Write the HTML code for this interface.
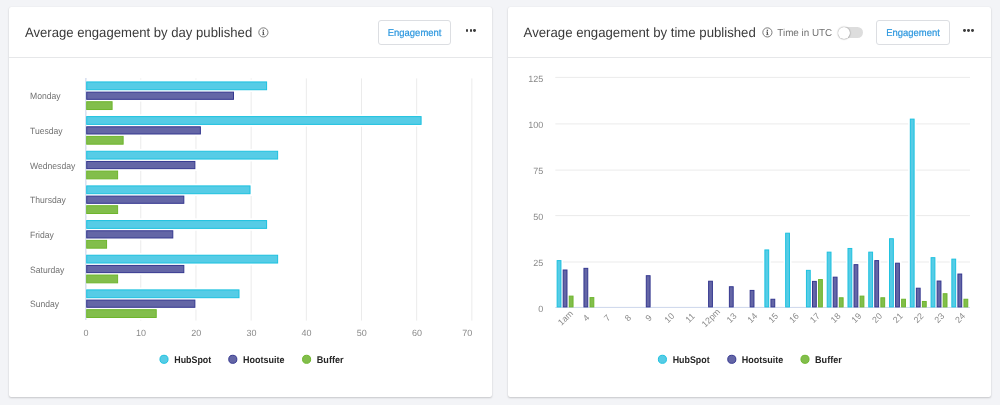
<!DOCTYPE html>
<html><head><meta charset="utf-8"><title>Engagement</title>
<style>
html,body{margin:0;padding:0;}
body{width:1000px;height:405px;overflow:hidden;background:#f3f4f7;font-family:"Liberation Sans", sans-serif;position:relative;}
.card{position:absolute;top:7.1px;height:389.5px;background:#fff;border-radius:2px;box-shadow:0 1px 2px rgba(0,0,0,.18),0 0 1px rgba(0,0,0,.10);}
#c1{left:9.2px;width:482.9px;}
#c2{left:507.9px;width:483.1px;}
.hdr{position:absolute;left:0;right:0;top:0;height:49.6px;border-bottom:1px solid #e6e7e9;}
.btn{position:absolute;top:13.2px;height:22.5px;width:71.4px;border:1px solid #dcdee2;border-radius:3px;background:#fff;}
.dots{position:absolute;top:21.9px;width:12px;height:4px;}
.dots i{position:absolute;top:0.2px;width:2.9px;height:2.9px;border-radius:50%;background:#3c3c3c;}
.info{position:absolute;top:19.9px;width:10.8px;height:10.8px;}
.tog{position:absolute;top:20.2px;width:24px;height:11.2px;border-radius:6px;background:#dddddd;}
.tog b{position:absolute;left:-1.2px;top:-0.5px;width:12.1px;height:12.1px;border-radius:50%;background:#fff;box-shadow:0 0 1.5px rgba(0,0,0,.5),0 0.5px 1px rgba(0,0,0,.12);}
svg#ch{position:absolute;left:0;top:0;will-change:transform;}
svg text{font-family:"Liberation Sans", sans-serif;text-rendering:geometricPrecision;}
</style></head>
<body>
<div class="card" id="c1">
 <div class="hdr">
  <svg class="info" style="left:249.0px" viewBox="0 0 10 10"><circle cx="5" cy="5" r="4.25" fill="none" stroke="#707070" stroke-width="0.85"/><rect x="4.45" y="4.3" width="1.1" height="3.1" fill="#555"/><rect x="3.9" y="4.3" width="1.2" height="0.7" fill="#666"/><rect x="3.9" y="6.8" width="2.2" height="0.7" fill="#666"/><rect x="4.4" y="2.5" width="1.2" height="1.15" fill="#555"/></svg>
  <div class="btn" style="left:368.6px"></div>
  <div class="dots" style="left:456.3px"><i style="left:0.1px"></i><i style="left:4.05px"></i><i style="left:8px"></i></div>
 </div>
</div>
<div class="card" id="c2">
 <div class="hdr">
  <svg class="info" style="left:254.0px" viewBox="0 0 10 10"><circle cx="5" cy="5" r="4.25" fill="none" stroke="#707070" stroke-width="0.85"/><rect x="4.45" y="4.3" width="1.1" height="3.1" fill="#555"/><rect x="3.9" y="4.3" width="1.2" height="0.7" fill="#666"/><rect x="3.9" y="6.8" width="2.2" height="0.7" fill="#666"/><rect x="4.4" y="2.5" width="1.2" height="1.15" fill="#555"/></svg>
  <div class="tog" style="left:331.6px"><b></b></div>
  <div class="btn" style="left:368.5px"></div>
  <div class="dots" style="left:455.3px"><i style="left:0.1px"></i><i style="left:4.05px"></i><i style="left:8px"></i></div>
 </div>
</div>
<svg id="ch" width="1000" height="405" viewBox="0 0 1000 405">
<text x="25.00" y="37.20" font-size="13.6" fill="#3a3a3a" textLength="227.20" lengthAdjust="spacingAndGlyphs">Average engagement by day published</text>
<text x="523.60" y="37.20" font-size="13.6" fill="#3a3a3a" textLength="232.20" lengthAdjust="spacingAndGlyphs">Average engagement by time published</text>
<text x="777.30" y="36.10" font-size="10.1" fill="#717171" textLength="54.90" lengthAdjust="spacingAndGlyphs">Time in UTC</text>
<text x="414.60" y="36.00" font-size="10.0" fill="#2b96de" text-anchor="middle" textLength="53.60" lengthAdjust="spacingAndGlyphs" stroke="#2b96de" stroke-width="0.2">Engagement</text>
<text x="913.00" y="36.00" font-size="10.0" fill="#2b96de" text-anchor="middle" textLength="53.60" lengthAdjust="spacingAndGlyphs" stroke="#2b96de" stroke-width="0.2">Engagement</text>
<path d="M140.78 78.40V320.62" stroke="#ebebeb" stroke-width="1"/>
<path d="M195.96 78.40V320.62" stroke="#ebebeb" stroke-width="1"/>
<path d="M251.14 78.40V320.62" stroke="#ebebeb" stroke-width="1"/>
<path d="M306.32 78.40V320.62" stroke="#ebebeb" stroke-width="1"/>
<path d="M361.50 78.40V320.62" stroke="#ebebeb" stroke-width="1"/>
<path d="M416.68 78.40V320.62" stroke="#ebebeb" stroke-width="1"/>
<path d="M471.86 78.40V320.62" stroke="#ebebeb" stroke-width="1"/>
<path d="M85.90 78.00V320.02" stroke="#ccd6eb" stroke-width="1.2"/>
<text x="30.00" y="99.23" font-size="9.2" fill="#717171" textLength="30.60" lengthAdjust="spacingAndGlyphs">Monday</text>
<text x="30.00" y="133.89" font-size="9.2" fill="#717171" textLength="32.67" lengthAdjust="spacingAndGlyphs">Tuesday</text>
<text x="30.00" y="168.55" font-size="9.2" fill="#717171" textLength="45.27" lengthAdjust="spacingAndGlyphs">Wednesday</text>
<text x="30.00" y="203.21" font-size="9.2" fill="#717171" textLength="35.85" lengthAdjust="spacingAndGlyphs">Thursday</text>
<text x="30.00" y="237.87" font-size="9.2" fill="#717171" textLength="23.91" lengthAdjust="spacingAndGlyphs">Friday</text>
<text x="30.00" y="272.53" font-size="9.2" fill="#717171" textLength="34.43" lengthAdjust="spacingAndGlyphs">Saturday</text>
<text x="30.00" y="307.19" font-size="9.2" fill="#717171" textLength="29.17" lengthAdjust="spacingAndGlyphs">Sunday</text>
<rect x="86.70" y="79.63" width="182.39" height="12.40" fill="#fff"/>
<rect x="86.70" y="89.83" width="149.29" height="11.80" fill="#fff"/>
<rect x="86.70" y="99.43" width="27.89" height="12.40" fill="#fff"/>
<rect x="86.70" y="114.29" width="336.90" height="12.40" fill="#fff"/>
<rect x="86.70" y="124.49" width="116.18" height="11.80" fill="#fff"/>
<rect x="86.70" y="134.09" width="38.93" height="12.40" fill="#fff"/>
<rect x="86.70" y="148.95" width="193.43" height="12.40" fill="#fff"/>
<rect x="86.70" y="159.15" width="110.66" height="11.80" fill="#fff"/>
<rect x="86.70" y="168.75" width="33.41" height="12.40" fill="#fff"/>
<rect x="86.70" y="183.61" width="165.84" height="12.40" fill="#fff"/>
<rect x="86.70" y="193.81" width="99.62" height="11.80" fill="#fff"/>
<rect x="86.70" y="203.41" width="33.41" height="12.40" fill="#fff"/>
<rect x="86.70" y="218.27" width="182.39" height="12.40" fill="#fff"/>
<rect x="86.70" y="228.47" width="88.59" height="11.80" fill="#fff"/>
<rect x="86.70" y="238.07" width="22.37" height="12.40" fill="#fff"/>
<rect x="86.70" y="252.93" width="193.43" height="12.40" fill="#fff"/>
<rect x="86.70" y="263.13" width="99.62" height="11.80" fill="#fff"/>
<rect x="86.70" y="272.73" width="33.41" height="12.40" fill="#fff"/>
<rect x="86.70" y="287.59" width="154.80" height="12.40" fill="#fff"/>
<rect x="86.70" y="297.79" width="110.66" height="11.80" fill="#fff"/>
<rect x="86.70" y="307.39" width="72.03" height="12.40" fill="#fff"/>
<rect x="86.70" y="81.93" width="179.89" height="7.80" fill="#56cce6" stroke="#1cc1df" stroke-width="1"/>
<rect x="86.70" y="92.13" width="146.79" height="7.20" fill="#6466a6" stroke="#34378f" stroke-width="1"/>
<rect x="86.70" y="101.73" width="25.39" height="7.80" fill="#82be4b" stroke="#6db52d" stroke-width="1"/>
<rect x="86.70" y="116.59" width="334.40" height="7.80" fill="#56cce6" stroke="#1cc1df" stroke-width="1"/>
<rect x="86.70" y="126.79" width="113.68" height="7.20" fill="#6466a6" stroke="#34378f" stroke-width="1"/>
<rect x="86.70" y="136.39" width="36.43" height="7.80" fill="#82be4b" stroke="#6db52d" stroke-width="1"/>
<rect x="86.70" y="151.25" width="190.93" height="7.80" fill="#56cce6" stroke="#1cc1df" stroke-width="1"/>
<rect x="86.70" y="161.45" width="108.16" height="7.20" fill="#6466a6" stroke="#34378f" stroke-width="1"/>
<rect x="86.70" y="171.05" width="30.91" height="7.80" fill="#82be4b" stroke="#6db52d" stroke-width="1"/>
<rect x="86.70" y="185.91" width="163.34" height="7.80" fill="#56cce6" stroke="#1cc1df" stroke-width="1"/>
<rect x="86.70" y="196.11" width="97.12" height="7.20" fill="#6466a6" stroke="#34378f" stroke-width="1"/>
<rect x="86.70" y="205.71" width="30.91" height="7.80" fill="#82be4b" stroke="#6db52d" stroke-width="1"/>
<rect x="86.70" y="220.57" width="179.89" height="7.80" fill="#56cce6" stroke="#1cc1df" stroke-width="1"/>
<rect x="86.70" y="230.77" width="86.09" height="7.20" fill="#6466a6" stroke="#34378f" stroke-width="1"/>
<rect x="86.70" y="240.37" width="19.87" height="7.80" fill="#82be4b" stroke="#6db52d" stroke-width="1"/>
<rect x="86.70" y="255.23" width="190.93" height="7.80" fill="#56cce6" stroke="#1cc1df" stroke-width="1"/>
<rect x="86.70" y="265.43" width="97.12" height="7.20" fill="#6466a6" stroke="#34378f" stroke-width="1"/>
<rect x="86.70" y="275.03" width="30.91" height="7.80" fill="#82be4b" stroke="#6db52d" stroke-width="1"/>
<rect x="86.70" y="289.89" width="152.30" height="7.80" fill="#56cce6" stroke="#1cc1df" stroke-width="1"/>
<rect x="86.70" y="300.09" width="108.16" height="7.20" fill="#6466a6" stroke="#34378f" stroke-width="1"/>
<rect x="86.70" y="309.69" width="69.53" height="7.80" fill="#82be4b" stroke="#6db52d" stroke-width="1"/>
<text x="85.90" y="335.60" font-size="9.0" fill="#8a8a8a" text-anchor="middle">0</text>
<text x="141.08" y="335.60" font-size="9.0" fill="#8a8a8a" text-anchor="middle">10</text>
<text x="196.26" y="335.60" font-size="9.0" fill="#8a8a8a" text-anchor="middle">20</text>
<text x="251.44" y="335.60" font-size="9.0" fill="#8a8a8a" text-anchor="middle">30</text>
<text x="306.62" y="335.60" font-size="9.0" fill="#8a8a8a" text-anchor="middle">40</text>
<text x="361.80" y="335.60" font-size="9.0" fill="#8a8a8a" text-anchor="middle">50</text>
<text x="416.98" y="335.60" font-size="9.0" fill="#8a8a8a" text-anchor="middle">60</text>
<text x="472.30" y="335.60" font-size="9.0" fill="#8a8a8a" text-anchor="end">70</text>
<path d="M555.30 307.40H970.00" stroke="#ccd6eb" stroke-width="1"/>
<text x="543.20" y="311.60" font-size="9.0" fill="#8a8a8a" text-anchor="end">0</text>
<path d="M555.30 262.00H970.00" stroke="#ebebeb" stroke-width="1"/>
<text x="543.20" y="265.60" font-size="9.0" fill="#8a8a8a" text-anchor="end">25</text>
<path d="M555.30 215.60H970.00" stroke="#ebebeb" stroke-width="1"/>
<text x="543.20" y="219.60" font-size="9.0" fill="#8a8a8a" text-anchor="end">50</text>
<path d="M555.30 170.10H970.00" stroke="#ebebeb" stroke-width="1"/>
<text x="543.20" y="173.60" font-size="9.0" fill="#8a8a8a" text-anchor="end">75</text>
<path d="M555.30 123.90H970.00" stroke="#ebebeb" stroke-width="1"/>
<text x="543.20" y="127.60" font-size="9.0" fill="#8a8a8a" text-anchor="end">100</text>
<path d="M555.30 77.40H970.00" stroke="#ebebeb" stroke-width="1"/>
<text x="543.20" y="81.60" font-size="9.0" fill="#8a8a8a" text-anchor="end">125</text>
<rect x="555.04" y="258.51" width="8.00" height="48.39" fill="#fff"/>
<rect x="561.09" y="267.90" width="8.00" height="39.00" fill="#fff"/>
<rect x="567.14" y="294.02" width="8.00" height="12.88" fill="#fff"/>
<rect x="581.86" y="266.24" width="8.00" height="40.66" fill="#fff"/>
<rect x="587.91" y="295.50" width="8.00" height="11.40" fill="#fff"/>
<rect x="644.19" y="273.60" width="8.00" height="33.30" fill="#fff"/>
<rect x="706.51" y="279.12" width="8.00" height="27.78" fill="#fff"/>
<rect x="727.29" y="284.64" width="8.00" height="22.26" fill="#fff"/>
<rect x="748.06" y="288.32" width="8.00" height="18.58" fill="#fff"/>
<rect x="762.79" y="247.84" width="8.00" height="59.06" fill="#fff"/>
<rect x="768.84" y="297.15" width="8.00" height="9.75" fill="#fff"/>
<rect x="783.56" y="231.10" width="8.00" height="75.80" fill="#fff"/>
<rect x="804.34" y="268.26" width="8.00" height="38.64" fill="#fff"/>
<rect x="810.39" y="279.30" width="8.00" height="27.60" fill="#fff"/>
<rect x="816.44" y="277.46" width="8.00" height="29.44" fill="#fff"/>
<rect x="825.11" y="250.05" width="8.00" height="56.85" fill="#fff"/>
<rect x="831.16" y="275.07" width="8.00" height="31.83" fill="#fff"/>
<rect x="837.21" y="295.68" width="8.00" height="11.22" fill="#fff"/>
<rect x="845.89" y="246.37" width="8.00" height="60.53" fill="#fff"/>
<rect x="851.94" y="262.56" width="8.00" height="44.34" fill="#fff"/>
<rect x="857.99" y="294.02" width="8.00" height="12.88" fill="#fff"/>
<rect x="866.66" y="250.05" width="8.00" height="56.85" fill="#fff"/>
<rect x="872.71" y="258.51" width="8.00" height="48.39" fill="#fff"/>
<rect x="878.76" y="295.68" width="8.00" height="11.22" fill="#fff"/>
<rect x="887.44" y="236.62" width="8.00" height="70.28" fill="#fff"/>
<rect x="893.49" y="261.09" width="8.00" height="45.81" fill="#fff"/>
<rect x="899.54" y="297.15" width="8.00" height="9.75" fill="#fff"/>
<rect x="908.21" y="117.02" width="8.00" height="189.88" fill="#fff"/>
<rect x="914.26" y="286.11" width="8.00" height="20.79" fill="#fff"/>
<rect x="920.31" y="299.36" width="8.00" height="7.54" fill="#fff"/>
<rect x="928.99" y="255.57" width="8.00" height="51.33" fill="#fff"/>
<rect x="935.04" y="278.94" width="8.00" height="27.96" fill="#fff"/>
<rect x="941.09" y="291.63" width="8.00" height="15.27" fill="#fff"/>
<rect x="949.76" y="257.04" width="8.00" height="49.86" fill="#fff"/>
<rect x="955.81" y="271.94" width="8.00" height="34.96" fill="#fff"/>
<rect x="961.86" y="297.15" width="8.00" height="9.75" fill="#fff"/>
<rect x="557.14" y="260.61" width="3.80" height="46.29" fill="#56cce6" stroke="#1cc1df" stroke-width="1"/>
<rect x="563.19" y="270.00" width="3.80" height="36.90" fill="#6466a6" stroke="#34378f" stroke-width="1"/>
<rect x="569.24" y="296.12" width="3.80" height="10.78" fill="#82be4b" stroke="#6db52d" stroke-width="1"/>
<rect x="583.96" y="268.34" width="3.80" height="38.56" fill="#6466a6" stroke="#34378f" stroke-width="1"/>
<rect x="590.01" y="297.60" width="3.80" height="9.30" fill="#82be4b" stroke="#6db52d" stroke-width="1"/>
<rect x="646.29" y="275.70" width="3.80" height="31.20" fill="#6466a6" stroke="#34378f" stroke-width="1"/>
<rect x="708.61" y="281.22" width="3.80" height="25.68" fill="#6466a6" stroke="#34378f" stroke-width="1"/>
<rect x="729.39" y="286.74" width="3.80" height="20.16" fill="#6466a6" stroke="#34378f" stroke-width="1"/>
<rect x="750.16" y="290.42" width="3.80" height="16.48" fill="#6466a6" stroke="#34378f" stroke-width="1"/>
<rect x="764.89" y="249.94" width="3.80" height="56.96" fill="#56cce6" stroke="#1cc1df" stroke-width="1"/>
<rect x="770.94" y="299.25" width="3.80" height="7.65" fill="#6466a6" stroke="#34378f" stroke-width="1"/>
<rect x="785.66" y="233.20" width="3.80" height="73.70" fill="#56cce6" stroke="#1cc1df" stroke-width="1"/>
<rect x="806.44" y="270.36" width="3.80" height="36.54" fill="#56cce6" stroke="#1cc1df" stroke-width="1"/>
<rect x="812.49" y="281.40" width="3.80" height="25.50" fill="#6466a6" stroke="#34378f" stroke-width="1"/>
<rect x="818.54" y="279.56" width="3.80" height="27.34" fill="#82be4b" stroke="#6db52d" stroke-width="1"/>
<rect x="827.21" y="252.15" width="3.80" height="54.75" fill="#56cce6" stroke="#1cc1df" stroke-width="1"/>
<rect x="833.26" y="277.17" width="3.80" height="29.73" fill="#6466a6" stroke="#34378f" stroke-width="1"/>
<rect x="839.31" y="297.78" width="3.80" height="9.12" fill="#82be4b" stroke="#6db52d" stroke-width="1"/>
<rect x="847.99" y="248.47" width="3.80" height="58.43" fill="#56cce6" stroke="#1cc1df" stroke-width="1"/>
<rect x="854.04" y="264.66" width="3.80" height="42.24" fill="#6466a6" stroke="#34378f" stroke-width="1"/>
<rect x="860.09" y="296.12" width="3.80" height="10.78" fill="#82be4b" stroke="#6db52d" stroke-width="1"/>
<rect x="868.76" y="252.15" width="3.80" height="54.75" fill="#56cce6" stroke="#1cc1df" stroke-width="1"/>
<rect x="874.81" y="260.61" width="3.80" height="46.29" fill="#6466a6" stroke="#34378f" stroke-width="1"/>
<rect x="880.86" y="297.78" width="3.80" height="9.12" fill="#82be4b" stroke="#6db52d" stroke-width="1"/>
<rect x="889.54" y="238.72" width="3.80" height="68.18" fill="#56cce6" stroke="#1cc1df" stroke-width="1"/>
<rect x="895.59" y="263.19" width="3.80" height="43.71" fill="#6466a6" stroke="#34378f" stroke-width="1"/>
<rect x="901.64" y="299.25" width="3.80" height="7.65" fill="#82be4b" stroke="#6db52d" stroke-width="1"/>
<rect x="910.31" y="119.12" width="3.80" height="187.78" fill="#56cce6" stroke="#1cc1df" stroke-width="1"/>
<rect x="916.36" y="288.21" width="3.80" height="18.69" fill="#6466a6" stroke="#34378f" stroke-width="1"/>
<rect x="922.41" y="301.46" width="3.80" height="5.44" fill="#82be4b" stroke="#6db52d" stroke-width="1"/>
<rect x="931.09" y="257.67" width="3.80" height="49.23" fill="#56cce6" stroke="#1cc1df" stroke-width="1"/>
<rect x="937.14" y="281.04" width="3.80" height="25.86" fill="#6466a6" stroke="#34378f" stroke-width="1"/>
<rect x="943.19" y="293.73" width="3.80" height="13.17" fill="#82be4b" stroke="#6db52d" stroke-width="1"/>
<rect x="951.86" y="259.14" width="3.80" height="47.76" fill="#56cce6" stroke="#1cc1df" stroke-width="1"/>
<rect x="957.91" y="274.04" width="3.80" height="32.86" fill="#6466a6" stroke="#34378f" stroke-width="1"/>
<rect x="963.96" y="299.25" width="3.80" height="7.65" fill="#82be4b" stroke="#6db52d" stroke-width="1"/>
<text transform="translate(565.39 317.80) rotate(-45)" x="0" y="3.1" font-size="8.8" fill="#8a8a8a" text-anchor="middle">1am</text>
<text transform="translate(586.16 317.80) rotate(-45)" x="0" y="3.1" font-size="8.8" fill="#8a8a8a" text-anchor="middle">4</text>
<text transform="translate(606.94 317.80) rotate(-45)" x="0" y="3.1" font-size="8.8" fill="#8a8a8a" text-anchor="middle">7</text>
<text transform="translate(627.71 317.80) rotate(-45)" x="0" y="3.1" font-size="8.8" fill="#8a8a8a" text-anchor="middle">8</text>
<text transform="translate(648.49 317.80) rotate(-45)" x="0" y="3.1" font-size="8.8" fill="#8a8a8a" text-anchor="middle">9</text>
<text transform="translate(669.26 317.80) rotate(-45)" x="0" y="3.1" font-size="8.8" fill="#8a8a8a" text-anchor="middle">10</text>
<text transform="translate(690.04 317.80) rotate(-45)" x="0" y="3.1" font-size="8.8" fill="#8a8a8a" text-anchor="middle">11</text>
<text transform="translate(710.81 317.80) rotate(-45)" x="0" y="3.1" font-size="8.8" fill="#8a8a8a" text-anchor="middle">12pm</text>
<text transform="translate(731.59 317.80) rotate(-45)" x="0" y="3.1" font-size="8.8" fill="#8a8a8a" text-anchor="middle">13</text>
<text transform="translate(752.36 317.80) rotate(-45)" x="0" y="3.1" font-size="8.8" fill="#8a8a8a" text-anchor="middle">14</text>
<text transform="translate(773.14 317.80) rotate(-45)" x="0" y="3.1" font-size="8.8" fill="#8a8a8a" text-anchor="middle">15</text>
<text transform="translate(793.91 317.80) rotate(-45)" x="0" y="3.1" font-size="8.8" fill="#8a8a8a" text-anchor="middle">16</text>
<text transform="translate(814.69 317.80) rotate(-45)" x="0" y="3.1" font-size="8.8" fill="#8a8a8a" text-anchor="middle">17</text>
<text transform="translate(835.46 317.80) rotate(-45)" x="0" y="3.1" font-size="8.8" fill="#8a8a8a" text-anchor="middle">18</text>
<text transform="translate(856.24 317.80) rotate(-45)" x="0" y="3.1" font-size="8.8" fill="#8a8a8a" text-anchor="middle">19</text>
<text transform="translate(877.01 317.80) rotate(-45)" x="0" y="3.1" font-size="8.8" fill="#8a8a8a" text-anchor="middle">20</text>
<text transform="translate(897.79 317.80) rotate(-45)" x="0" y="3.1" font-size="8.8" fill="#8a8a8a" text-anchor="middle">21</text>
<text transform="translate(918.56 317.80) rotate(-45)" x="0" y="3.1" font-size="8.8" fill="#8a8a8a" text-anchor="middle">22</text>
<text transform="translate(939.34 317.80) rotate(-45)" x="0" y="3.1" font-size="8.8" fill="#8a8a8a" text-anchor="middle">23</text>
<text transform="translate(960.11 317.80) rotate(-45)" x="0" y="3.1" font-size="8.8" fill="#8a8a8a" text-anchor="middle">24</text>
<circle cx="164" cy="359.3" r="4.05" fill="#56cce6" stroke="#1cc1df" stroke-width="1"/>
<text x="174.30" y="362.90" font-size="9.7" fill="#262626" font-weight="bold" textLength="36.90" lengthAdjust="spacingAndGlyphs">HubSpot</text>
<circle cx="232.8" cy="359.3" r="4.05" fill="#6466a6" stroke="#34378f" stroke-width="1"/>
<text x="243.10" y="362.90" font-size="9.7" fill="#262626" font-weight="bold" textLength="41.50" lengthAdjust="spacingAndGlyphs">Hootsuite</text>
<circle cx="306.6" cy="359.3" r="4.05" fill="#82be4b" stroke="#6db52d" stroke-width="1"/>
<text x="316.80" y="362.90" font-size="9.7" fill="#262626" font-weight="bold" textLength="26.80" lengthAdjust="spacingAndGlyphs">Buffer</text>
<circle cx="662.4" cy="359.3" r="4.05" fill="#56cce6" stroke="#1cc1df" stroke-width="1"/>
<text x="672.70" y="362.90" font-size="9.7" fill="#262626" font-weight="bold" textLength="36.90" lengthAdjust="spacingAndGlyphs">HubSpot</text>
<circle cx="731.8" cy="359.3" r="4.05" fill="#6466a6" stroke="#34378f" stroke-width="1"/>
<text x="741.70" y="362.90" font-size="9.7" fill="#262626" font-weight="bold" textLength="41.50" lengthAdjust="spacingAndGlyphs">Hootsuite</text>
<circle cx="805" cy="359.3" r="4.05" fill="#82be4b" stroke="#6db52d" stroke-width="1"/>
<text x="815.00" y="362.90" font-size="9.7" fill="#262626" font-weight="bold" textLength="26.80" lengthAdjust="spacingAndGlyphs">Buffer</text>
</svg>
</body></html>
